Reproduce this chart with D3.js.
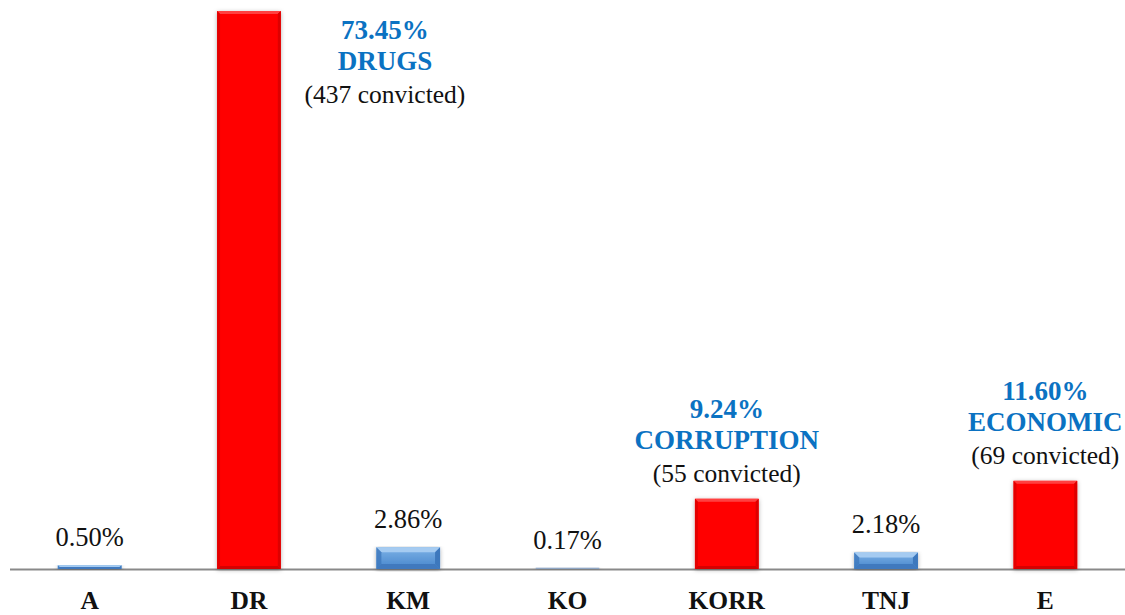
<!DOCTYPE html>
<html><head><meta charset="utf-8">
<script src="https://cdn.jsdelivr.net/npm/d3@7"></script>
<style>body{margin:0;background:#fff}svg{display:block}</style>
</head><body>
<svg id="c" width="1125" height="615"></svg>
<script>
const categories = ["A","DR","KM","KO","KORR","TNJ","E"];
const values = [0.50,73.45,2.86,0.17,9.24,2.18,11.60];
const valueLabels = ["0.50%","73.45%","2.86%","0.17%","9.24%","2.18%","11.60%"];
const highlighted = ["DR","KORR","E"];
const highlightNames = {DR:"DRUGS", KORR:"CORRUPTION", E:"ECONOMIC"};
const convicted = {DR:437, KORR:55, E:69};

const svg = d3.select("#c");
const x = d3.scaleBand().domain(categories).range([10,1125]).paddingInner(0.6).paddingOuter(0.3);
const y = d3.scaleLinear().domain([0,73.45]).range([569,11]);
const font = "'Liberation Serif', serif";

const defs = svg.append("defs");
const f = defs.append("filter").attr("id","sh").attr("x","-20%").attr("y","-5%").attr("width","140%").attr("height","115%");
f.append("feDropShadow").attr("dx",0).attr("dy",1).attr("stdDeviation",2).attr("flood-color","#000").attr("flood-opacity",0.3);
const gB = defs.append("linearGradient").attr("id","gb").attr("x1",0).attr("x2",0).attr("y1",0).attr("y2",1);
gB.append("stop").attr("offset","0%").attr("stop-color","#7eb2e6");
gB.append("stop").attr("offset","100%").attr("stop-color","#4585cc");

svg.append("line").attr("x1",10).attr("x2",1125).attr("y1",y(0)+0.5).attr("y2",y(0)+0.5).attr("stroke","#898989").attr("stroke-width",2);

const bars = svg.append("g").selectAll("g").data(categories).join("g").attr("filter","url(#sh)");
bars.each(function(c,i){
  const g = d3.select(this);
  const x0 = x(c), w = x.bandwidth(), y0 = y(values[i]), h = y(0)-y0;
  const hi = highlighted.includes(c);
  g.append("rect").attr("x",x0).attr("y",y0).attr("width",w).attr("height",h)
    .attr("fill", hi ? "#ff0000" : "url(#gb)");
  if (h < 3) { g.select("rect").attr("fill", values[i] < 0.3 ? "#8fa6c4" : "#4a86c8"); return; }
  const b = Math.min(hi?3:5, h/2);
  const pts = (arr)=>arr.map(p=>p.join(",")).join(" ");
  const L=x0, R=x0+w, T=y0, B=y(0);
  const cTop = hi ? "#ff4040" : "#a5cbf1";
  const cBot = hi ? "#d40000" : "#4179be";
  const cSide = hi ? "#dd0000" : "#3d78bd";
  g.append("polygon").attr("points",pts([[L,T],[R,T],[R-b,T+b],[L+b,T+b]])).attr("fill",cTop);
  g.append("polygon").attr("points",pts([[L,B],[R,B],[R-b,B-b],[L+b,B-b]])).attr("fill",cBot);
  g.append("polygon").attr("points",pts([[L,T],[L+b,T+b],[L+b,B-b],[L,B]])).attr("fill",cSide).attr("opacity",0.8);
  g.append("polygon").attr("points",pts([[R,T],[R-b,T+b],[R-b,B-b],[R,B]])).attr("fill",cSide);
});

const small = categories.map((c,i)=>({c,i})).filter(d=>!highlighted.includes(d.c));
svg.append("g").selectAll("text").data(small).join("text")
  .attr("x",d=>x(d.c)+x.bandwidth()/2)
  .attr("y",d=>y(values[d.i])-19)
  .attr("text-anchor","middle").attr("font-family",font).attr("font-size",26.5).attr("fill","#111")
  .text(d=>valueLabels[d.i]);

highlighted.forEach(c=>{
  const i = categories.indexOf(c);
  let cx = x(c)+x.bandwidth()/2, top;
  if (c==="DR") { cx += 136; top = 39; } else { top = y(values[i]) - 81; }
  const t = svg.append("g").attr("font-family",font).attr("text-anchor","middle");
  t.append("text").attr("x",cx).attr("y",top).attr("font-size",27).attr("font-weight","bold").attr("fill","#0b72c2").text(valueLabels[i]);
  t.append("text").attr("x",cx).attr("y",top+31).attr("font-size",27).attr("font-weight","bold").attr("fill","#0b72c2").text(highlightNames[c]);
  t.append("text").attr("x",cx).attr("y",top+64).attr("font-size",25.5).attr("fill","#111").text(`(${convicted[c]} convicted)`);
});

svg.append("g").selectAll("text").data(categories).join("text")
  .attr("x",c=>x(c)+x.bandwidth()/2).attr("y",609)
  .attr("text-anchor","middle").attr("font-family",font).attr("font-size",25.5).attr("font-weight","bold").attr("fill","#111")
  .text(c=>c);
</script>
</body></html>
